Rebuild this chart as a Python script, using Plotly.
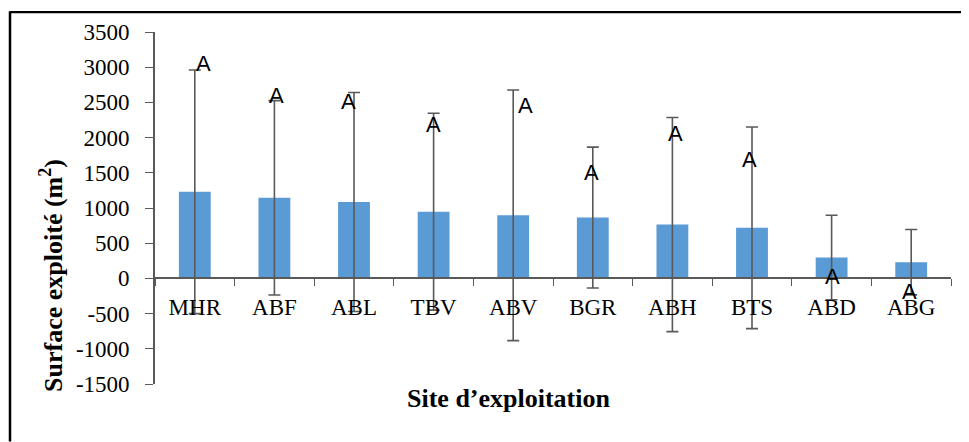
import plotly.graph_objects as go

sites = ["MHR", "ABF", "ABL", "TBV", "ABV", "BGR", "ABH", "BTS", "ABD", "ABG"]
surface_mean = [1230, 1145, 1085, 948, 896, 864, 765, 718, 296, 230]
surface_sd = [1730, 1380, 1555, 1398, 1780, 1000, 1521, 1432, 600, 464]
letters = ["A", "A", "A", "A", "A", "A", "A", "A", "A", "A"]
letter_y = [3046, 2600, 2511, 2187, 2459, 1511, 2061, 1690, 28, -189]
letter_dx = [9, 2, -6, 0, 12, -1, 3, -3, 1, -2]

y_ticks = [3500, 3000, 2500, 2000, 1500, 1000, 500, 0, -500, -1000, -1500]

axis_col = "#595959"
serif = "Liberation Serif, Times New Roman, serif"

# page has an 8px body margin; figure is sized to fit the 969x442 window
W, H = 961, 434
L, T, R, B = 147, 21, 18, 58
PW, PH = W - L - R, H - T - B


def px(xp):  # figure pixel x -> paper
    return (xp - L) / PW


def py(yp):  # figure pixel y -> paper
    return (H - B - yp) / PH


fig = go.Figure()
fig.add_trace(go.Bar(
    x=sites, y=surface_mean,
    width=0.4,
    marker=dict(color="#5B9BD5", line=dict(width=0)),
    error_y=dict(type="data", array=surface_sd, visible=True,
                 color=axis_col, thickness=1.6, width=6),
))

for s, t, ly, dx in zip(sites, letters, letter_y, letter_dx):
    fig.add_annotation(x=s, y=ly, text=t, showarrow=False, xshift=dx,
                       font=dict(family="Liberation Sans, Arial, sans-serif",
                                 size=22, color="black"),
                       xanchor="center", yanchor="middle")

lo, hi = y_ticks[-1], y_ticks[0]
fig.update_layout(
    width=W, height=H,
    margin=dict(l=L, r=R, t=T, b=B),
    paper_bgcolor="white", plot_bgcolor="white",
    showlegend=False,
    xaxis=dict(
        type="category", anchor="free", position=(0 - lo) / (hi - lo),
        showline=True, linecolor=axis_col, linewidth=1.6,
        ticks="outside", tickson="boundaries", ticklen=7, tickcolor=axis_col, tickwidth=1.3,
        tickfont=dict(family=serif, size=23, color="black"),
        showgrid=False, zeroline=False,
        ticklabelstandoff=8,
    ),
    yaxis=dict(
        range=[lo, hi], tickvals=y_ticks, ticktext=[str(v) for v in y_ticks],
        showline=True, linecolor=axis_col, linewidth=1.6,
        ticks="outside", ticklen=8, tickcolor=axis_col, tickwidth=1.3,
        tickfont=dict(family=serif, size=23, color="black"),
        showgrid=False, zeroline=False,
        ticklabelstandoff=11,
    ),
)

fig.add_annotation(text="Surface exploité (m<sup>2</sup>)", xref="paper", yref="paper",
                   x=px(44), y=py(267), textangle=-90, showarrow=False,
                   xanchor="center", yanchor="middle",
                   font=dict(family=serif, size=26, color="black", weight="bold"))
fig.add_annotation(text="Site d’exploitation", xref="paper", yref="paper",
                   x=px(500), y=py(391), showarrow=False,
                   xanchor="center", yanchor="middle",
                   font=dict(family=serif, size=26, color="black", weight="bold"))

# outer frame (top and left edges visible)
fig.add_shape(type="line", xref="paper", yref="paper",
              x0=px(2), x1=px(W), y0=py(1), y1=py(1),
              line=dict(color="black", width=2.2))
fig.add_shape(type="line", xref="paper", yref="paper",
              x0=px(2), x1=px(2), y0=py(0), y1=py(H),
              line=dict(color="black", width=2.5))

fig.write_html("out.html")
